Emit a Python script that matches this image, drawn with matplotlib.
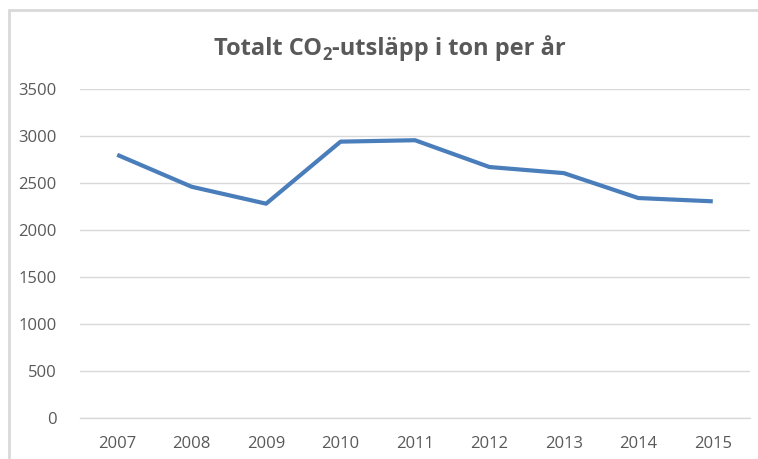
# CO2 emissions per year, line chart

import matplotlib
matplotlib.use("Agg")
import matplotlib.pyplot as plt
from matplotlib.patches import Rectangle

years = ["2007", "2008", "2009", "2010", "2011", "2012", "2013", "2014", "2015"]
co2_ton = [2800, 2460, 2280, 2940, 2955, 2670, 2605, 2340, 2305]
y_ticks = [0, 500, 1000, 1500, 2000, 2500, 3000, 3500]
title_parts = ["Totalt CO", "2", "-utsläpp i ton per år"]

plt.rcParams["font.family"] = ["Open Sans", "DejaVu Sans"]

grey_text = "#595959"

fig = plt.figure(figsize=(7.58, 4.59), dpi=100)
ax = fig.add_axes([80 / 758, 1 - 418 / 459, 670 / 758, 329 / 459])

x = list(range(len(years)))
ax.plot(x, co2_ton, color="#4a7ebb", linewidth=3, solid_joinstyle="round",
        solid_capstyle="butt")

ax.set_xlim(-0.5, len(years) - 0.5)
ax.set_ylim(0, 3500)
ax.set_yticks(y_ticks)
ax.set_xticks(x)
ax.set_xticklabels(years)
ax.grid(axis="y", color="#d9d9d9", linewidth=1)
ax.set_axisbelow(True)
ax.tick_params(length=0, labelsize=12, colors=grey_text)
ax.tick_params(axis="y", pad=17)
ax.tick_params(axis="x", pad=13)
for side in ["top", "right", "left"]:
    ax.spines[side].set_visible(False)
ax.spines["bottom"].set_color("#d9d9d9")
ax.spines["bottom"].set_linewidth(1)

# title in pieces so the subscript 2 can sit lower, like in Word/Excel
renderer = fig.canvas.get_renderer()
sizes = [17, 12, 17]
drops = [0, 5, 0]  # pixels below baseline
pieces = []
for part, size in zip(title_parts, sizes):
    t = fig.text(0, 0, part, fontsize=size, fontweight="bold", color=grey_text,
                 ha="left", va="baseline")
    pieces.append(t)
widths = [t.get_window_extent(renderer).width for t in pieces]
total = sum(widths)
xpos = 390 - total / 2
baseline = 459 - 55
for t, w, d in zip(pieces, widths, drops):
    t.set_position((xpos / 758, (baseline - d) / 459))
    xpos += w

# chart border (cut off at the right and bottom)
fig.patches.append(Rectangle((8.5 / 758, -0.05), 760 / 758, 1.05 - 10.5 / 459,
                             transform=fig.transFigure, fill=False,
                             edgecolor="#d9d9d9", linewidth=2))

fig.savefig("out.png", dpi=100)
